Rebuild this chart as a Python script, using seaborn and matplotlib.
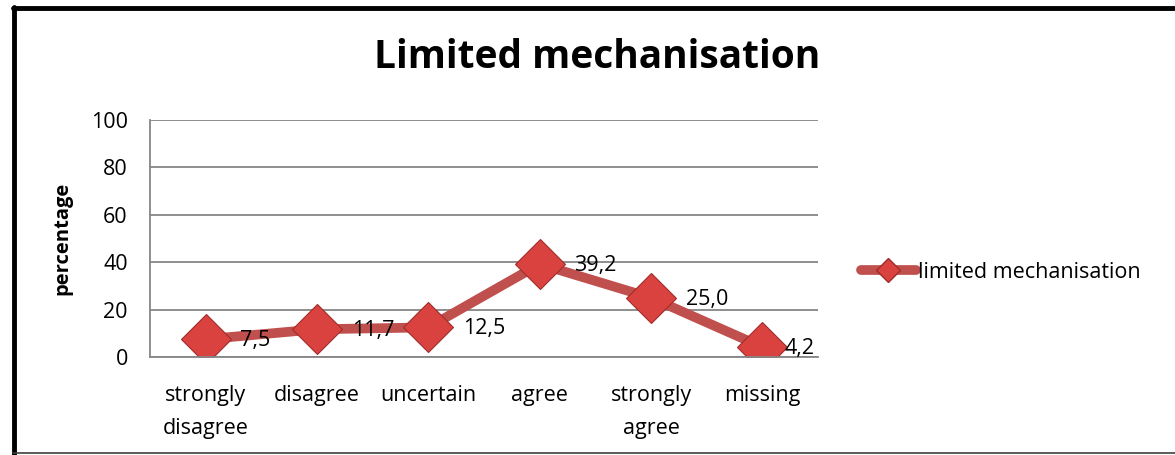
import matplotlib
matplotlib.use("Agg")
import matplotlib.pyplot as plt
import seaborn as sns
import pandas as pd
from matplotlib.lines import Line2D

categories = ["strongly\ndisagree", "disagree", "uncertain", "agree", "strongly\nagree", "missing"]
values = [7.5, 11.7, 12.5, 39.2, 25.0, 4.2]
value_labels = ["7,5", "11,7", "12,5", "39,2", "25,0", "4,2"]
yticks = [0, 20, 40, 60, 80, 100]
series_name = "limited mechanisation"
title = "Limited mechanisation"
ylabel = "percentage"

sns.set_theme(style="white")
plt.rcParams['font.family'] = ['Open Sans', 'DejaVu Sans']
plt.rcParams['text.color'] = 'black'

df = pd.DataFrame({"cat": range(len(categories)), "val": values})

W, H = 1175, 455
fig = plt.figure(figsize=(W / 100, H / 100), dpi=100)
ax = fig.add_axes([150 / W, 1 - 357 / H, (818 - 150) / W, (357 - 120) / H])

red = "#C0504D"
sns.lineplot(data=df, x="cat", y="val", ax=ax, color=red, linewidth=7,
             marker="D", markersize=25, markerfacecolor="#D9423F",
             markeredgecolor="#A02C2A", markeredgewidth=0.8, legend=False,
             solid_capstyle="round")

ax.set_xlim(-0.5, len(categories) - 0.5)
ax.set_ylim(0, 100)
ax.set_yticks(yticks)
ax.set_yticklabels([str(t) for t in yticks], fontsize=15.5)
ax.set_xticks(range(len(categories)))
ax.set_xticklabels(categories, fontsize=15.5, linespacing=1.75)
ax.tick_params(axis="both", length=0, colors="black")
ax.tick_params(axis="y", pad=16)
ax.tick_params(axis="x", pad=20)
ax.grid(axis="y", color="#868686", linewidth=1.3)
ax.set_axisbelow(True)
for s in ["top", "right"]:
    ax.spines[s].set_visible(False)
for s in ["left", "bottom"]:
    ax.spines[s].set_color("#868686")
    ax.spines[s].set_linewidth(1.3)

ax.set_xlabel("")
ax.set_ylabel(ylabel, fontsize=14.5, fontweight="bold", labelpad=13, color="black")

for i, (v, lab) in enumerate(zip(values, value_labels)):
    off = 16 if i == len(values) - 1 else 25
    ax.annotate(lab, (i, v), xytext=(off, -1), textcoords="offset points",
                ha="left", va="center", fontsize=15.5, color="black")

fig.text(597 / W, 1 - 58 / H, title, ha="center", va="center",
         fontsize=28, fontweight="bold", color="black")

handle = Line2D([0], [0], color=red, linewidth=7, marker="D", markersize=12,
                markerfacecolor="#D9423F", markeredgecolor="#A02C2A",
                solid_capstyle="round")
fig.legend([handle], [series_name], loc="center left",
           bbox_to_anchor=(850 / W, 1 - 272 / H), frameon=False,
           fontsize=15.5, handlelength=2.55, handletextpad=0.1, borderpad=0)

# outer chart border
fig.add_artist(Line2D([14 / W, 14 / W], [0, 1 - 7 / H], color="black", linewidth=3.5,
                      transform=fig.transFigure))
fig.add_artist(Line2D([13 / W, 1], [1 - 8 / H, 1 - 8 / H], color="black", linewidth=3.5,
                      transform=fig.transFigure))
fig.add_artist(Line2D([13 / W, 1], [1 - 452.5 / H, 1 - 452.5 / H], color="#404040",
                      linewidth=1.2, transform=fig.transFigure))

fig.savefig("out.png", dpi=100, facecolor="white")
